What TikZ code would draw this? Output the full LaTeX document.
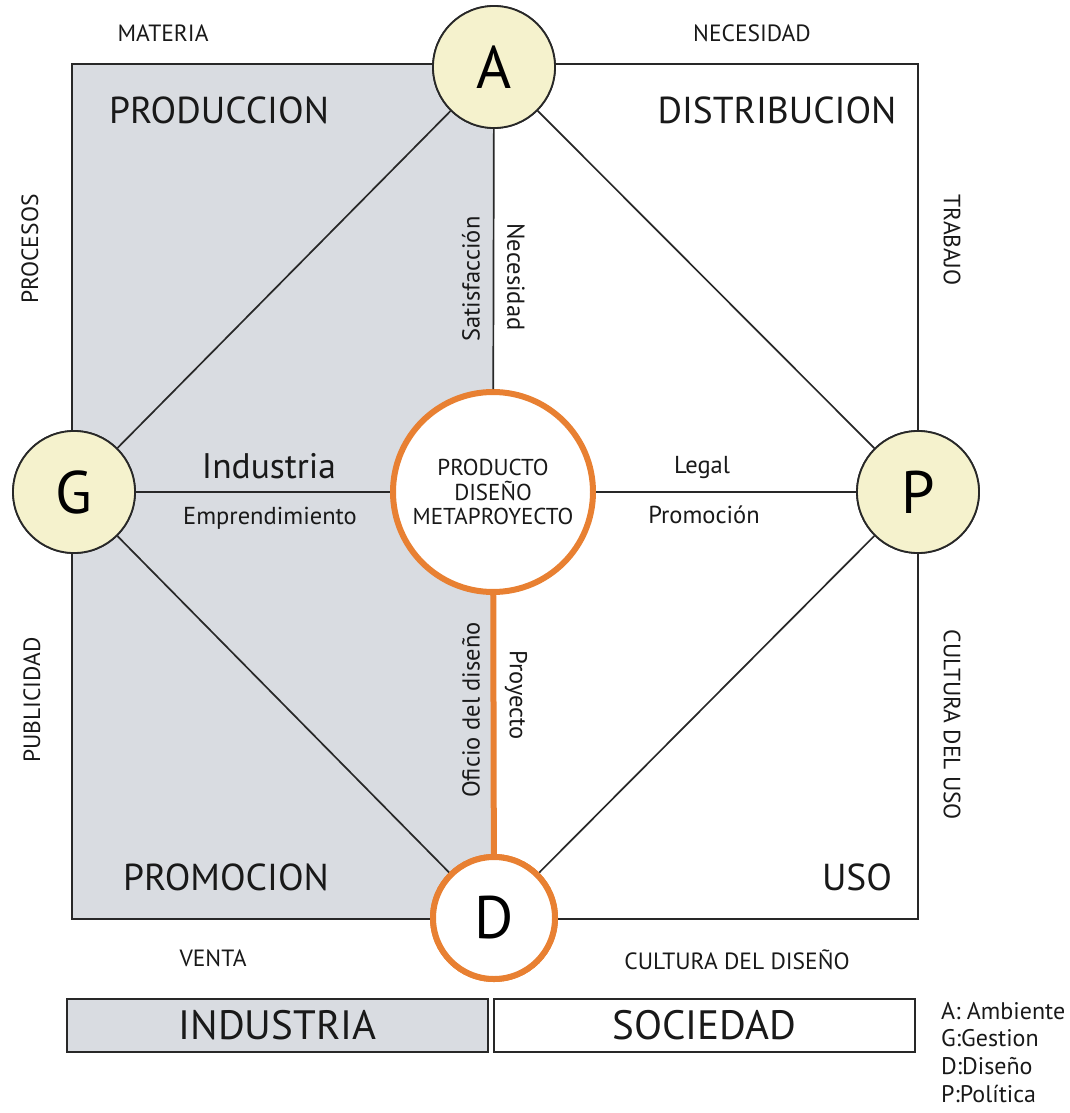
\documentclass[tikz,border=0pt]{standalone}
\usepackage{fontspec}
\setmainfont{PT Sans}
\definecolor{grayfill}{RGB}{217,220,225}
\definecolor{yel}{RGB}{245,242,205}
\definecolor{orng}{RGB}{232,128,50}
\definecolor{txt}{RGB}{25,25,25}
\definecolor{ln}{RGB}{40,40,40}
\tikzset{
  ycirc/.style={circle, draw=ln, line width=1.8pt, fill=yel, minimum size=122pt, inner sep=0pt, font=\fontsize{60}{60}\selectfont, text=black},
  ocirc/.style={circle, draw=orng, line width=6pt, fill=white, inner sep=0pt, text=txt},
  conn/.style={draw=ln, line width=1.7pt},
  small/.style={font=\fontsize{23.5}{24}\selectfont, text=txt, inner sep=0pt},
  big/.style={font=\fontsize{37.5}{38}\selectfont, text=txt, inner sep=0pt},
  mid/.style={font=\fontsize{24.5}{26}\selectfont, text=txt, inner sep=0pt},
  barbox/.style={draw=ln, line width=2pt, minimum width=421pt, minimum height=53pt, inner sep=0pt, font=\fontsize{41}{43}\selectfont, text=txt}
}
\begin{document}
\begin{tikzpicture}[x=1pt,y=-1pt]
\useasboundingbox (0,0) rectangle (1070,1113);
% background areas
\fill[grayfill] (72,64) rectangle (493,919);
\draw[conn] (72,64) rectangle (918,919);
% nodes
\node[ycirc] (A) at (494,67) {A};
\node[ycirc] (G) at (74,492) {G};
\node[ycirc] (P) at (918,492) {P};
\node[ocirc, minimum size=200pt, font=\fontsize{23}{24.5}\selectfont, align=center] (C) at (493,492) {PRODUCTO\\DISEÑO\\METAPROYECTO};
\node[ocirc, minimum size=122pt, font=\fontsize{60}{60}\selectfont, text=black] (D) at (494,918) {D};
% connectors
\draw[conn] (A) -- (G);
\draw[conn] (A) -- (P);
\draw[conn] (G) -- (D);
\draw[conn] (P) -- (D);
\draw[conn] (A) -- (C);
\draw[conn] (G) -- (C);
\draw[conn] (C) -- (P);
\draw[draw=orng, line width=6pt] (C) -- (D);
% redraw circles on top
\node[ycirc] at (A) {A};
\node[ycirc] at (G) {G};
\node[ycirc] at (P) {P};
\node[ocirc, minimum size=122pt, font=\fontsize{60}{60}\selectfont, text=black] at (D) {D};
% corner labels
\node[small] (mat) at (163,33) {MATERIA};
\node[small] (nec) at (752,33) {NECESIDAD};
\node[big] (prod) at (219,110) {PRODUCCION};
\node[big] (dist) at (777,110) {DISTRIBUCION};
\node[small, rotate=90] (proc) at (30,249) {PROCESOS};
\node[small, rotate=-90] (trab) at (952,240) {TRABAJO};
\node[mid, rotate=90] (sat) at (471,279) {Satisfacción};
\node[mid, rotate=-90] (necs) at (516,277) {Necesidad};
\node[font=\fontsize{35.5}{36}\selectfont, text=txt, inner sep=0pt] (ind) at (269,466) {Industria};
\node[mid] (emp) at (270,518) {Emprendimiento};
\node[mid] (leg) at (702,468) {Legal};
\node[mid] (prom) at (704,515) {Promoción};
\node[small, rotate=90] (pub) at (32,700) {PUBLICIDAD};
\node[small, rotate=-90] (cuso) at (952,725) {CULTURA DEL USO};
\node[mid, rotate=90] (ofi) at (471,710) {Oficio del diseño};
\node[mid, rotate=-90] (proy) at (516,695) {Proyecto};
\node[big] (promo) at (226,877) {PROMOCION};
\node[big] (uso) at (857,877) {USO};
\node[small] (vent) at (213,958) {VENTA};
\node[small] (cdis) at (737,960) {CULTURA DEL DISEÑO};
% bottom bars
\node[barbox, fill=grayfill] (bi) at (277.5,1025.5) {INDUSTRIA};
\node[barbox, fill=white] (bs) at (704.5,1025.5) {SOCIEDAD};
% legend
\node[font=\fontsize{24}{27.7}\selectfont, text=txt, align=left, anchor=north west, inner sep=0pt] (leg1) at (941,1002) {A: Ambiente\\G:Gestion\\D:Diseño\\P:Política};
\end{tikzpicture}
\end{document}
